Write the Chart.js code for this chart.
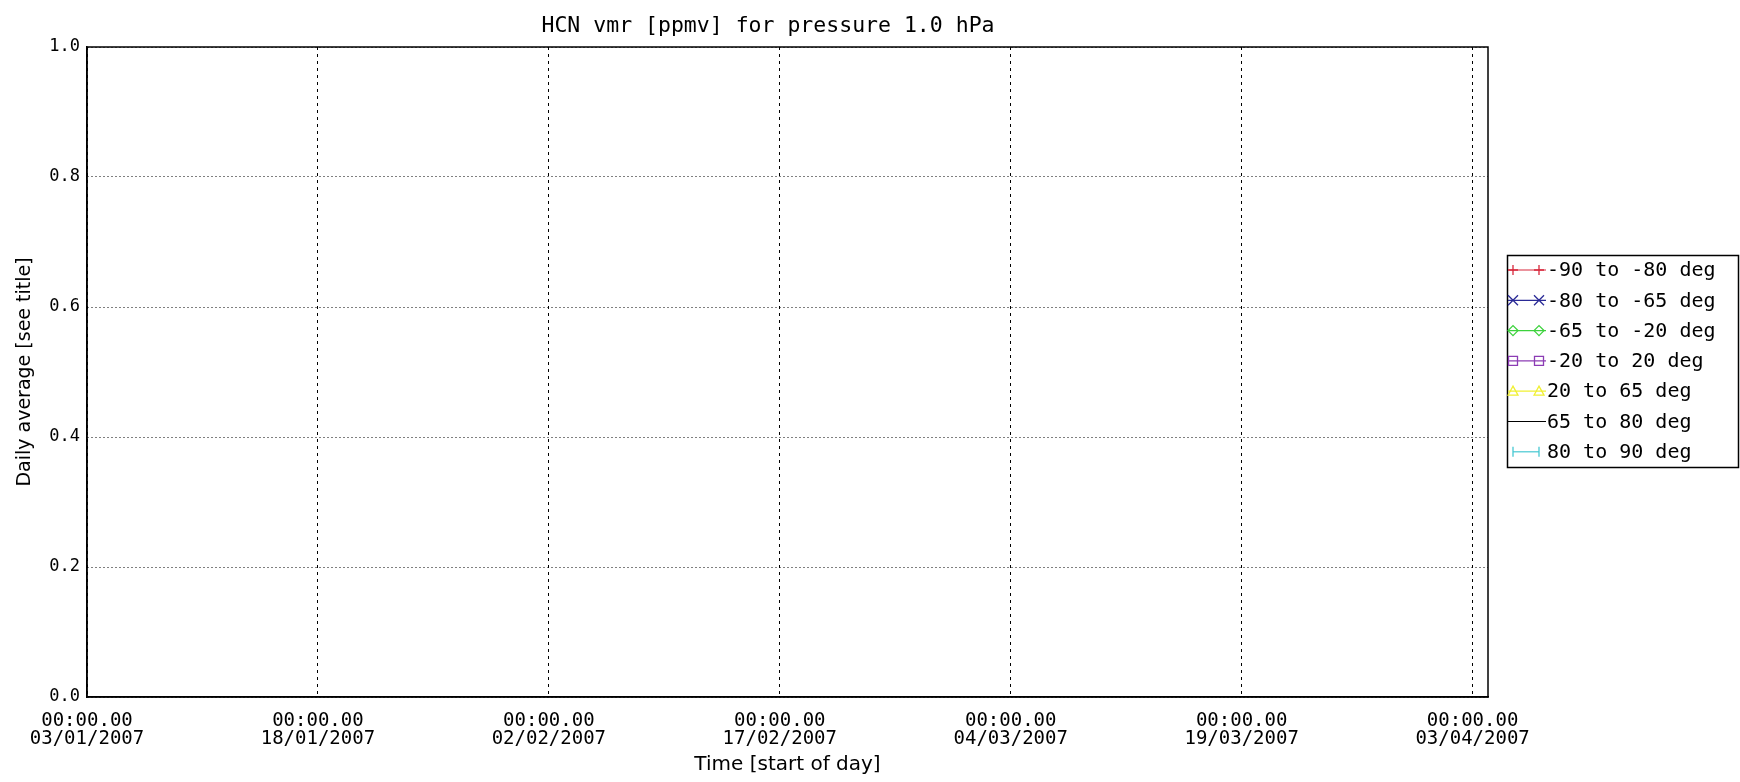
<!DOCTYPE html>
<html>
<head>
<meta charset="utf-8">
<title>HCN vmr</title>
<script src="https://cdn.jsdelivr.net/npm/chart.js@4.4.0/dist/chart.umd.min.js"></script>
<style>
  html, body { margin: 0; padding: 0; background: #fff; }
  #wrap { width: 1740px; height: 782px; }
</style>
</head>
<body>
<div id="wrap"><canvas id="chart" width="1740" height="782"></canvas></div>
<script>
// ===================== DATA =====================
const titleText = "HCN vmr [ppmv] for pressure 1.0 hPa";
const yTitleText = "Daily average [see title]";
const xTitleText = "Time [start of day]";

const seriesNames = [
  "-90 to -80 deg", "-80 to -65 deg", "-65 to -20 deg", "-20 to 20 deg",
  "20 to 65 deg", "65 to 80 deg", "80 to 90 deg"
];
const seriesColors = ["#d8283c", "#2a2a96", "#3cd23c", "#8c3cb4", "#f0f032", "#000000", "#46c8d2"];
const seriesMarkers = ["cross", "crossRot", "rectRot", "rect", "triangle", "none", "bar"];
// no daily averages were plotted for this pressure level
const seriesValues = [[], [], [], [], [], [], []];

// x is days since 03/01/2007 00:00
const xTickDays = [0, 15, 30, 45, 60, 75, 90];
const xTickTimes = ["00:00.00", "00:00.00", "00:00.00", "00:00.00", "00:00.00", "00:00.00", "00:00.00"];
const xTickDates = ["03/01/2007", "18/01/2007", "02/02/2007", "17/02/2007", "04/03/2007", "19/03/2007", "03/04/2007"];
const xMin = 0, xMax = 91;

const yTicks = [0, 0.2, 0.4, 0.6, 0.8, 1.0];
const yMin = 0, yMax = 1;

// ===================== HELPERS =====================
const MONO = "'DejaVu Sans Mono', monospace";
const SANS = "'DejaVu Sans', sans-serif";

function drawMarker(ctx, kind, x, y, color) {
  const r = 5;
  ctx.save();
  ctx.strokeStyle = color;
  ctx.lineWidth = 1.3;
  ctx.beginPath();
  if (kind === "cross") {
    ctx.moveTo(x - r, y); ctx.lineTo(x + r, y);
    ctx.moveTo(x, y - r); ctx.lineTo(x, y + r);
  } else if (kind === "crossRot") {
    ctx.moveTo(x - r, y - r); ctx.lineTo(x + r, y + r);
    ctx.moveTo(x - r, y + r); ctx.lineTo(x + r, y - r);
  } else if (kind === "rectRot") {
    ctx.moveTo(x - r, y); ctx.lineTo(x, y - r); ctx.lineTo(x + r, y); ctx.lineTo(x, y + r); ctx.closePath();
  } else if (kind === "rect") {
    ctx.rect(x - 4.5, y - 4.5, 9, 9);
  } else if (kind === "triangle") {
    ctx.moveTo(x - r, y + r * 0.8); ctx.lineTo(x, y - r); ctx.lineTo(x + r, y + r * 0.8); ctx.closePath();
  } else if (kind === "bar") {
    ctx.moveTo(x, y - r); ctx.lineTo(x, y + r);
  }
  ctx.stroke();
  ctx.restore();
}

// ===================== PLUGIN: frame, title, legend =====================
const framePlugin = {
  id: "frame",
  afterDraw(chart) {
    const ctx = chart.ctx;
    const a = chart.chartArea;

    // plot frame
    ctx.save();
    ctx.strokeStyle = "#000";
    ctx.lineWidth = 1.5;
    ctx.strokeRect(a.left, a.top, a.right - a.left, a.bottom - a.top);

    // title
    ctx.fillStyle = "#000";
    ctx.font = "21.5px " + MONO;
    ctx.textAlign = "center";
    ctx.textBaseline = "middle";
    ctx.fillText(titleText, 768, 26);

    // legend
    const lx = 1507, ly = 255, lw = 231, lh = 212;
    ctx.lineWidth = 1.5;
    ctx.strokeRect(lx + 0.5, ly + 0.5, lw, lh);
    ctx.font = "20px " + MONO;
    ctx.textAlign = "left";
    chart.data.datasets.forEach((ds, i) => {
      const y = 270 + 30.3 * i;
      const kind = seriesMarkers[i];
      const x0 = kind === "bar" ? 1513 : lx + 1;
      const x1 = kind === "bar" ? 1539 : 1546;
      ctx.strokeStyle = ds.borderColor;
      ctx.lineWidth = 1.2;
      ctx.beginPath();
      ctx.moveTo(x0, y); ctx.lineTo(x1, y);
      ctx.stroke();
      drawMarker(ctx, kind, 1513, y, ds.borderColor);
      drawMarker(ctx, kind, 1539, y, ds.borderColor);
      ctx.fillStyle = "#000";
      ctx.fillText(ds.label, 1547, y + 1);
    });
    ctx.restore();
  }
};

// ===================== CHART =====================
const datasets = seriesNames.map((name, i) => ({
  label: name,
  data: seriesValues[i],
  borderColor: seriesColors[i],
  backgroundColor: seriesColors[i],
  showLine: true,
  borderWidth: 1,
  pointStyle: seriesMarkers[i] === "none" ? false : seriesMarkers[i] === "bar" ? "line" : seriesMarkers[i],
  pointRotation: seriesMarkers[i] === "bar" ? 90 : 0,
  pointRadius: 5
}));

new Chart(document.getElementById("chart").getContext("2d"), {
  type: "scatter",
  data: { datasets },
  options: {
    responsive: false,
    animation: false,
    events: [],
    layout: { padding: { top: 47, right: 252, left: 0, bottom: 0 } },
    plugins: {
      legend: { display: false },
      title: { display: false },
      tooltip: { enabled: false }
    },
    scales: {
      x: {
        type: "linear",
        min: xMin,
        max: xMax,
        afterBuildTicks: s => { s.ticks = xTickDays.map(v => ({ value: v })); },
        afterFit: s => { s.height = 85; },
        ticks: {
          autoSkip: false,
          maxRotation: 0,
          color: "#000",
          padding: 15,
          font: { family: MONO, size: 19, lineHeight: 0.95 },
          callback: v => {
            const i = xTickDays.indexOf(v);
            return i < 0 ? "" : [xTickTimes[i], xTickDates[i]];
          }
        },
        grid: { color: "#000", lineWidth: 1, drawTicks: false },
        border: { display: true, color: "#000", width: 1.5, dash: [3, 4] },
        title: {
          display: true,
          text: xTitleText,
          color: "#000",
          font: { family: SANS, size: 20, lineHeight: 1.0 },
          padding: { top: 0, bottom: 7 }
        }
      },
      y: {
        min: yMin,
        max: yMax,
        afterBuildTicks: s => { s.ticks = yTicks.map(v => ({ value: v })); },
        afterFit: s => { s.width = 87; },
        ticks: {
          color: "#000",
          padding: 7,
          font: { family: MONO, size: 17 },
          callback: v => Number(v).toFixed(1)
        },
        grid: { color: "#000", lineWidth: 1, drawTicks: false },
        border: { display: true, color: "#000", width: 1.5, dash: [1, 3] },
        title: {
          display: true,
          text: yTitleText,
          color: "#000",
          font: { family: SANS, size: 19, lineHeight: 1.0 },
          padding: { top: 16, bottom: 0 }
        }
      }
    }
  },
  plugins: [framePlugin]
});
</script>
</body>
</html>
